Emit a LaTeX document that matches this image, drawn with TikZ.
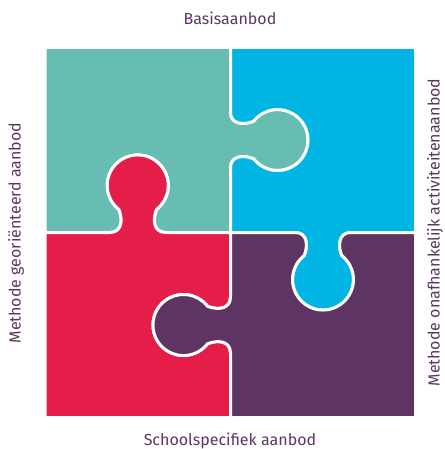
\documentclass[tikz,border=0pt]{standalone}
\usepackage{fontspec}
\setmainfont{Fira Sans}
\usetikzlibrary{calc}
\definecolor{pzteal}{RGB}{103,189,178}
\definecolor{pzcyan}{RGB}{0,180,228}
\definecolor{pzred}{RGB}{229,30,73}
\definecolor{pzpurple}{RGB}{94,53,98}
\begin{document}
\begin{tikzpicture}[
  x=1pt, y=-1pt,
  piece/.style={draw=white, line width=3pt},
  caption/.style={font=\fontsize{16}{19}\selectfont, text=pzpurple, inner sep=0pt},
  knob/.style n args={3}{insert path={
    -- ($(#1)+({#2+90*(#3)}:-28)$)
    .. controls ($(#1)+({#2+90*(#3)}:-15)$) and ($(#1)+(#2:14)+({#2+90*(#3)}:-15)$)
    .. ($(#1)+(#2:23)+({#2+90*(#3)}:-18.8)$)
    arc[start angle={#2-142*(#3)}, delta angle={284*(#3)}, radius=30.5]
    .. controls ($(#1)+(#2:14)+({#2+90*(#3)}:15)$) and ($(#1)+({#2+90*(#3)}:15)$)
    .. ($(#1)+({#2+90*(#3)}:28)$)}}
]
\useasboundingbox (0,0) rectangle (444,449);

% Corners and middles of the square
\coordinate (tl) at (45,47.5);
\coordinate (tm) at (230.5,47.5);
\coordinate (tr) at (415.5,47.5);
\coordinate (ml) at (45,232.5);
\coordinate (mm) at (230.5,232.5);
\coordinate (mr) at (415.5,232.5);
\coordinate (bl) at (45,417.5);
\coordinate (bm) at (230.5,417.5);
\coordinate (br) at (415.5,417.5);

% Knob bases
\coordinate (kA) at (230.5,140);
\coordinate (kB) at (137.75,232.5);
\coordinate (kC) at (323,232.5);
\coordinate (kD) at (230.5,325);

% Pieces
\draw[piece, fill=pzteal] (tl) -- (tm) [knob={kA}{0}{1}] -- (mm) [knob={kB}{270}{-1}] -- (ml) -- cycle;
\draw[piece, fill=pzcyan] (tm) -- (tr) -- (mr) [knob={kC}{90}{1}] -- (mm) [knob={kA}{0}{-1}] -- cycle;
\draw[piece, fill=pzred] (ml) [knob={kB}{270}{1}] -- (mm) [knob={kD}{180}{-1}] -- (bm) -- (bl) -- cycle;
\draw[piece, fill=pzpurple] (mm) [knob={kC}{90}{-1}] -- (mr) -- (br) -- (bm) [knob={kD}{180}{1}] -- cycle;

% Captions
\node[caption] (basis) at (230,18) {Basisaanbod};
\node[caption] (school) at (230,441) {Schoolspecifiek aanbod};
\node[caption, rotate=90] (methode) at (16,233) {Methode georiënteerd aanbod};
\node[caption, rotate=90] (onafh) at (435,232.5) {Methode onafhankelijk activiteitenaanbod};

\end{tikzpicture}
\end{document}
